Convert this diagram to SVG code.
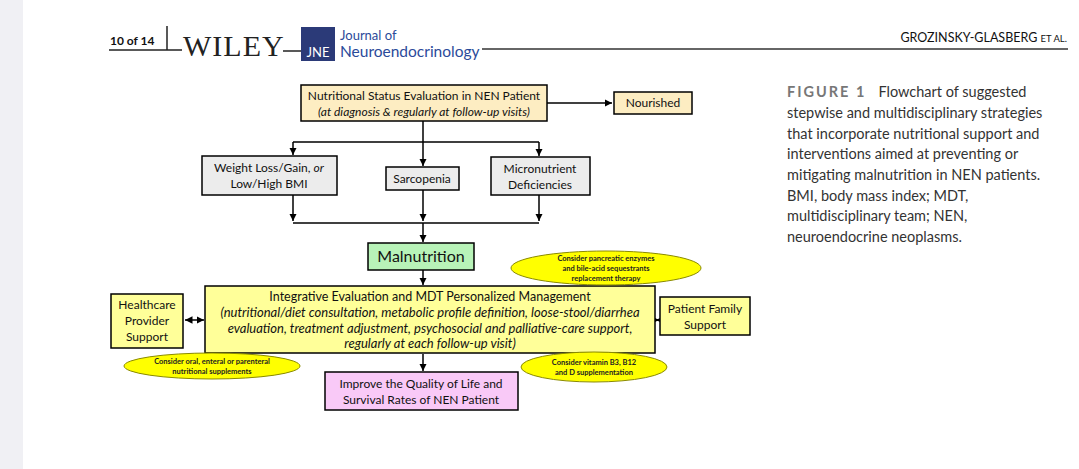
<svg xmlns="http://www.w3.org/2000/svg" width="1079" height="469" viewBox="0 0 1079 469">
<defs>
<marker id="ah" viewBox="0 0 6 6" refX="6" refY="3" markerWidth="5" markerHeight="5" orient="auto-start-reverse"><path d="M0,0L6,3L0,6z" fill="#000"/></marker>
</defs>
<style>
.t{font-family:Lato,"Open Sans","Liberation Sans",sans-serif;fill:#111}
.b{stroke:#000;stroke-width:1.5}
.c{stroke:#000;stroke-width:1.5;fill:none}
.e{fill:#ffff00;stroke:#8a8a00;stroke-width:1}
.s{font-family:Lato,"Liberation Sans",sans-serif;font-weight:bold;font-size:7.5px;fill:#222}
.cap{font-family:Lato,"Liberation Sans",sans-serif;font-size:14.5px;fill:#333}
</style>
<rect width="1079" height="469" fill="#fff"/>
<rect width="23" height="469" fill="#f0f0f4"/>
<g id="header">
<text x="110" y="45" class="t" font-size="12" font-weight="bold">10 of 14</text>
<line x1="109" y1="50" x2="182" y2="50" stroke="#222" stroke-width="1.5"/>
<line x1="167" y1="26" x2="167" y2="50" stroke="#222" stroke-width="1.5"/>
<text x="183" y="56" font-family="Liberation Serif,serif" font-size="30" fill="#222" letter-spacing="1">WILEY</text>
<line x1="283" y1="51" x2="301" y2="51" stroke="#222" stroke-width="1.5"/>
<rect x="301" y="27" width="34" height="34" fill="#2b3a78"/>
<text x="318" y="57" text-anchor="middle" font-family="Lato,sans-serif" font-size="13" fill="#fff">JNE</text>
<text x="340" y="40" font-family="Lato,sans-serif" font-size="13" fill="#2b4a9a">Journal of</text>
<text x="340" y="57" font-family="Lato,sans-serif" font-size="15.5" fill="#2b4a9a">Neuroendocrinology</text>
<line x1="482" y1="49" x2="1068" y2="49" stroke="#333" stroke-width="1.5"/>
<text x="1067" y="42" text-anchor="end" class="t" font-size="12.5" fill="#333">GROZINSKY-GLASBERG <tspan font-size="9.5">ET AL.</tspan></text>
</g>
<g id="connectors">
<path class="c" d="M547,103H612" marker-end="url(#ah)"/>
<path class="c" d="M423,121V142M293,142H539"/>
<path class="c" d="M293,142V155" marker-end="url(#ah)"/>
<path class="c" d="M423,142V166" marker-end="url(#ah)"/>
<path class="c" d="M539,142V156" marker-end="url(#ah)"/>
<path class="c" d="M293,195V221" marker-end="url(#ah)"/>
<path class="c" d="M423,190V221" marker-end="url(#ah)"/>
<path class="c" d="M539,195V221" marker-end="url(#ah)"/>
<path class="c" d="M293,223H539" stroke-width="1"/>
<path class="c" d="M423,223V242" marker-end="url(#ah)"/>
<path class="c" d="M423,270V285" marker-end="url(#ah)"/>
<path class="c" d="M185,320H204" marker-start="url(#ah)" marker-end="url(#ah)"/>
<path class="c" d="M656,320H659" marker-start="url(#ah)" marker-end="url(#ah)"/>
<path class="c" d="M423,354V371" marker-end="url(#ah)"/>
</g>
<g id="n-status">
<rect x="301" y="85" width="246" height="36" fill="#fdedc2" class="b"/>
<text x="424" y="100" text-anchor="middle" class="t" font-size="12">Nutritional Status Evaluation in NEN Patient</text>
<text x="424" y="116" text-anchor="middle" class="t" font-size="12" font-style="italic">(at diagnosis &amp; regularly at follow-up visits)</text>
</g>
<g id="n-nourished">
<rect x="614" y="92" width="78" height="22" fill="#fdedc2" class="b"/>
<text x="653" y="107" text-anchor="middle" class="t" font-size="12">Nourished</text>
</g>
<g id="n-weight">
<rect x="202" y="156" width="135" height="39" fill="#ececec" class="b"/>
<text x="269" y="172" text-anchor="middle" class="t" font-size="12">Weight Loss/Gain, <tspan font-style="italic">or</tspan></text>
<text x="269" y="188" text-anchor="middle" class="t" font-size="12">Low/High BMI</text>
</g>
<g id="n-sarcopenia">
<rect x="386" y="167" width="73" height="23" fill="#ececec" class="b"/>
<text x="422" y="183" text-anchor="middle" class="t" font-size="12">Sarcopenia</text>
</g>
<g id="n-micro">
<rect x="491" y="157" width="99" height="38" fill="#ececec" class="b"/>
<text x="540" y="173" text-anchor="middle" class="t" font-size="12">Micronutrient</text>
<text x="540" y="189" text-anchor="middle" class="t" font-size="12">Deficiencies</text>
</g>
<g id="n-malnutrition">
<rect x="368" y="243" width="106" height="27" fill="#b8f3b8" class="b"/>
<text x="421" y="262" text-anchor="middle" class="t" font-size="16">Malnutrition</text>
</g>
<g id="n-integrative">
<rect x="205" y="286" width="450" height="67" fill="#ffff99" class="b"/>
<text x="430" y="301" text-anchor="middle" class="t" font-size="12.5">Integrative Evaluation and MDT Personalized Management</text>
<text x="430" y="317" text-anchor="middle" class="t" font-size="13" font-style="italic">(nutritional/diet consultation, metabolic profile definition, loose-stool/diarrhea</text>
<text x="430" y="333" text-anchor="middle" class="t" font-size="13" font-style="italic">evaluation, treatment adjustment, psychosocial and palliative-care support,</text>
<text x="430" y="348" text-anchor="middle" class="t" font-size="13" font-style="italic">regularly at each follow-up visit)</text>
</g>
<g id="n-healthcare">
<rect x="111" y="294" width="72" height="54" fill="#ffff99" class="b"/>
<text x="147" y="309" text-anchor="middle" class="t" font-size="12">Healthcare</text>
<text x="147" y="325" text-anchor="middle" class="t" font-size="12">Provider</text>
<text x="147" y="341" text-anchor="middle" class="t" font-size="12">Support</text>
</g>
<g id="n-family">
<rect x="660" y="297" width="90" height="38" fill="#ffff99" class="b"/>
<text x="705" y="313" text-anchor="middle" class="t" font-size="12">Patient Family</text>
<text x="705" y="329" text-anchor="middle" class="t" font-size="12">Support</text>
</g>
<g id="n-pancreatic">
<ellipse cx="606" cy="268" rx="95" ry="17" class="e"/>
<text x="606" y="261" text-anchor="middle" class="s">Consider pancreatic enzymes</text>
<text x="606" y="271" text-anchor="middle" class="s">and bile-acid sequestrants</text>
<text x="606" y="281" text-anchor="middle" class="s">replacement therapy</text>
</g>
<g id="n-oral">
<ellipse cx="212" cy="366" rx="88" ry="13" class="e"/>
<text x="212" y="364" text-anchor="middle" class="s">Consider oral, enteral or parenteral</text>
<text x="212" y="374" text-anchor="middle" class="s">nutritional supplements</text>
</g>
<g id="n-vitamin">
<ellipse cx="594" cy="367" rx="73" ry="15" class="e"/>
<text x="594" y="365" text-anchor="middle" class="s">Consider vitamin B3, B12</text>
<text x="594" y="375" text-anchor="middle" class="s">and D supplementation</text>
</g>
<g id="n-improve">
<rect x="325" y="372" width="193" height="38" fill="#f9c9f7" class="b"/>
<text x="421" y="388" text-anchor="middle" class="t" font-size="12">Improve the Quality of Life and</text>
<text x="421" y="404" text-anchor="middle" class="t" font-size="12">Survival Rates of NEN Patient</text>
</g>
<g id="caption">
<text x="787" y="97" class="cap"><tspan font-weight="bold" fill="#777" letter-spacing="2">FIGURE 1</tspan><tspan dx="12">Flowchart of suggested</tspan></text>
<text x="787" y="118" class="cap">stepwise and multidisciplinary strategies</text>
<text x="787" y="139" class="cap">that incorporate nutritional support and</text>
<text x="787" y="159" class="cap">interventions aimed at preventing or</text>
<text x="787" y="180" class="cap">mitigating malnutrition in NEN patients.</text>
<text x="787" y="201" class="cap">BMI, body mass index; MDT,</text>
<text x="787" y="221" class="cap">multidisciplinary team; NEN,</text>
<text x="787" y="242" class="cap">neuroendocrine neoplasms.</text>
</g>
</svg>
